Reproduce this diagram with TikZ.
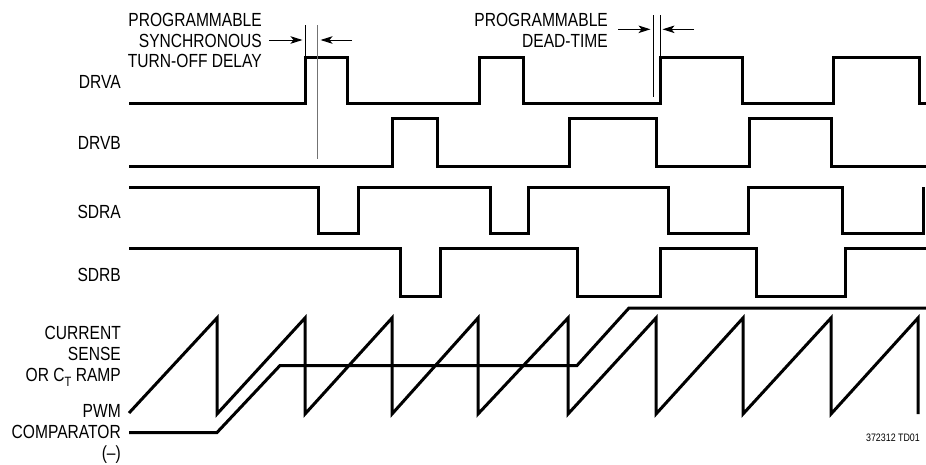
\documentclass[tikz,border=0pt]{standalone}
\usepackage{fontspec}
\setmainfont{Liberation Sans}[FakeStretch=0.82]
\usetikzlibrary{arrows.meta}
\begin{document}
\begin{tikzpicture}[x=1pt,y=-1pt,
  wave/.style={line width=3pt,line join=miter},
  markline/.style={line width=0.9pt},
  greyline/.style={line width=1pt,draw=black!55},
  dimarrow/.style={line width=1pt,-{Stealth[length=12pt,width=7.5pt,inset=3pt]}},
  lbl/.style={inner sep=0pt,anchor=base east,font=\fontsize{19}{21}\selectfont},
  small/.style={inner sep=0pt,anchor=base east,font=\fontsize{10.8}{12}\selectfont}]
\useasboundingbox[fill=white] (0,0) rectangle (926,464);

% signal labels
\node[lbl] (la) at (121,88) {DRVA};
\node[lbl] (lb) at (121,149) {DRVB};
\node[lbl] (lc) at (121,218) {SDRA};
\node[lbl] (ld) at (121,281) {SDRB};
\node[lbl] (le1) at (121,339) {CURRENT};
\node[lbl] (le2) at (121,360) {SENSE};
\node[lbl] (le3) at (121,381) {OR C\raisebox{-0.27em}{\fontsize{13.5}{14}\selectfont T} RAMP};
\node[lbl] (lf1) at (121,417) {PWM};
\node[lbl] (lf2) at (121,438) {COMPARATOR};
\node[lbl] (lf3) at (121,459) {(–)};

% annotation texts
\node[lbl] (t1) at (262,26) {PROGRAMMABLE};
\node[lbl] (t2) at (262,47) {SYNCHRONOUS};
\node[lbl] (t3) at (262,67.5) {TURN-OFF DELAY};
\node[lbl] (u1) at (608,26) {PROGRAMMABLE};
\node[lbl] (u2) at (608,47) {DEAD-TIME};
\node[small] (id) at (920,441) {372312 TD01};

% waveforms
\draw[wave] (129,103) -| (305.5,57) -| (347.5,103) -| (479.5,57) -| (523.5,103)
  -| (660.5,57) -| (742,103) -| (833,57) -| (919,103) -- (926,103);
\draw[wave] (129,166) -| (392,118) -| (437,166) -| (569,118) -| (656,166)
  -| (749,118) -| (831,166) -- (926,166);
\draw[wave] (129,187) -| (318,233.5) -| (358,187) -| (490,233.5) -| (528,187)
  -| (668,233.5) -| (748,187) -| (842,233.5) -| (923,187);
\draw[wave] (129,248) -| (400,296) -| (440,248) -| (577,296) -| (660,248)
  -| (756,296) -| (845,248) -- (926,248);

% ramp
\draw[wave] (129,413) foreach \p in {217,305,392,478,568,656,743,831,918} { -- (\p,318) -- (\p,414) };
% PWM comparator level
\draw[wave] (129,432.5) -- (217,432.5) -- (280,365.5) -- (577,365.5) -- (629,308) -- (926,308);

% marker lines
\coordinate (m1a) at (305.5,25);
\coordinate (m1b) at (305.5,100);
\coordinate (m2a) at (317.7,25);
\coordinate (m2b) at (317.7,159);
\coordinate (m3a) at (653,15);
\coordinate (m3b) at (653,97);
\coordinate (m4a) at (660,15);
\coordinate (m4b) at (660,57);
\draw[markline] (m1a) -- (m1b);
\draw[greyline] (m2a) -- (m2b);
\draw[markline] (m3a) -- (m3b);
\draw[markline] (m4a) -- (m4b);

% dimension arrows
\coordinate (a1s) at (269,40);
\coordinate (a1e) at (302.5,40);
\coordinate (a2s) at (352,40);
\coordinate (a2e) at (320.5,40);
\coordinate (a3s) at (618,29.3);
\coordinate (a3e) at (650.5,29.3);
\coordinate (a4s) at (694,29.3);
\coordinate (a4e) at (662.5,29.3);
\draw[dimarrow] (a1s) -- (a1e);
\draw[dimarrow] (a2s) -- (a2e);
\draw[dimarrow] (a3s) -- (a3e);
\draw[dimarrow] (a4s) -- (a4e);
\end{tikzpicture}
\end{document}
